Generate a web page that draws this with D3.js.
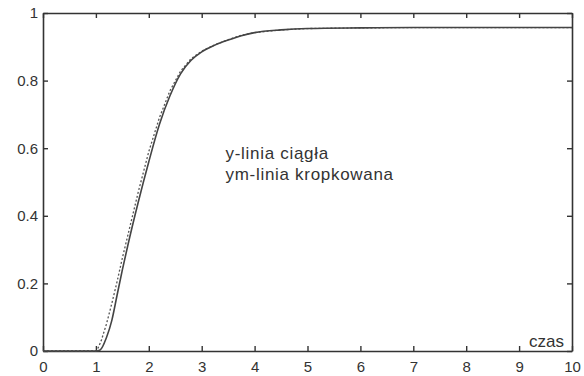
<!DOCTYPE html>
<html>
<head>
<meta charset="utf-8">
<script src="https://cdn.jsdelivr.net/npm/d3@7"></script>
<style>
  body { margin: 0; background: #fff; }
  text { font-family: "Liberation Sans", Arial, sans-serif; fill: #333; }
</style>
</head>
<body>
<div id="chart"></div>
<script>
// Time samples and responses
const tY = [0, 1.0, 1.08, 1.2, 1.3, 1.4, 1.5, 1.6, 1.8, 2.0, 2.2, 2.4, 2.6, 2.8, 3.0, 3.25, 3.5, 3.75, 4.0, 4.5, 5, 6, 7, 8, 9, 10];
const yVals = [0, 0, 0.003, 0.04, 0.09, 0.165, 0.24, 0.31, 0.44, 0.56, 0.67, 0.755, 0.82, 0.86, 0.885, 0.905, 0.92, 0.933, 0.942, 0.95, 0.954, 0.956, 0.957, 0.957, 0.957, 0.957];

const tYm = [0, 1.0, 1.03, 1.1, 1.2, 1.3, 1.4, 1.5, 1.6, 1.8, 2.0, 2.2, 2.4, 2.6, 2.8, 3.0, 3.25, 3.5, 3.75, 4.0, 4.5, 5, 6, 7, 8, 9, 10];
const ymVals = [0, 0, 0.005, 0.03, 0.08, 0.14, 0.205, 0.275, 0.34, 0.47, 0.59, 0.69, 0.77, 0.828, 0.865, 0.887, 0.906, 0.921, 0.934, 0.942, 0.95, 0.954, 0.956, 0.957, 0.957, 0.957, 0.957];

const xTicks = [0, 1, 2, 3, 4, 5, 6, 7, 8, 9, 10];
const yTicks = [0, 0.2, 0.4, 0.6, 0.8, 1];
const legendLines = ["y-linia ciągła", "ym-linia kropkowana"];

const margin = { top: 13, right: 12, bottom: 25, left: 43 },
    width = 584 - margin.left - margin.right,
    height = 376 - margin.top - margin.bottom;

const svg = d3.select("#chart")
    .append("svg")
    .attr("width", 584)
    .attr("height", 376)
    .append("g")
    .attr("transform", `translate(${margin.left},${margin.top})`);

const x = d3.scaleLinear().domain([0, 10]).range([0, width]);
const y = d3.scaleLinear().domain([0, 1]).range([height, 0]);

const axisColor = "#333";
const fmt = d => d === 0 || d === 1 ? String(d) : d3.format(".1f")(d);

// Bottom axis (ticks inward)
const xb = svg.append("g")
    .attr("transform", `translate(0,${height})`)
    .call(d3.axisBottom(x).tickValues(xTicks).tickSizeInner(-5).tickSizeOuter(0).tickPadding(10).tickFormat(d => d));
// Top axis
const xt = svg.append("g")
    .call(d3.axisTop(x).tickValues(xTicks).tickSizeInner(-5).tickSizeOuter(0).tickFormat(""));
// Left axis
const yl = svg.append("g")
    .call(d3.axisLeft(y).tickValues(yTicks).tickSizeInner(-5).tickSizeOuter(0).tickPadding(5).tickFormat(fmt));
// Right axis
const yr = svg.append("g")
    .attr("transform", `translate(${width},0)`)
    .call(d3.axisRight(y).tickValues(yTicks).tickSizeInner(-5).tickSizeOuter(0).tickFormat(""));

[xb, xt, yl, yr].forEach(g => {
    g.select(".domain").attr("stroke", axisColor).attr("stroke-width", 1.6);
    g.selectAll(".tick line").attr("stroke", axisColor).attr("stroke-width", 1.4);
    g.selectAll("text").style("font-size", "15px").attr("fill", "#333");
});

// Lines
const line = d3.line().x(d => x(d[0])).y(d => y(d[1]));

svg.append("path")
    .datum(tYm.map((t, i) => [t, ymVals[i]]))
    .attr("fill", "none")
    .attr("stroke", "#555")
    .attr("stroke-width", 1.3)
    .attr("stroke-dasharray", "2,2")
    .attr("d", line);

svg.append("path")
    .datum(tY.map((t, i) => [t, yVals[i]]))
    .attr("fill", "none")
    .attr("stroke", "#444")
    .attr("stroke-width", 1.6)
    .attr("d", line.curve(d3.curveMonotoneX));

// Annotation text
svg.selectAll(".legend")
    .data(legendLines)
    .enter()
    .append("text")
    .attr("class", "legend")
    .attr("x", x(3.45))
    .attr("y", (d, i) => y(0.569) + i * 21)
    .style("font-size", "17px")
    .style("letter-spacing", "0.7px")
    .text(d => d);

// x-axis label
svg.append("text")
    .attr("x", width - 8)
    .attr("y", height - 4)
    .style("text-anchor", "end")
    .style("font-size", "17px")
    .text("czas");
</script>
</body>
</html>
